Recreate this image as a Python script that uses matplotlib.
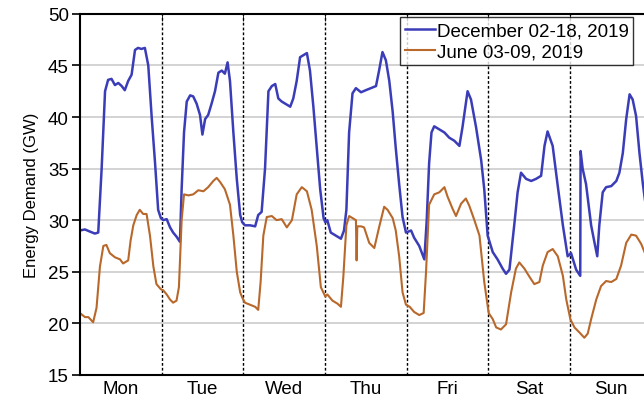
import matplotlib
matplotlib.use("Agg")
import matplotlib.pyplot as plt

plt.rcParams["font.family"] = ["Liberation Sans", "DejaVu Sans"]

# hours since Monday 00:00, energy demand in GW
dec_hours = [0, 1.5, 2.9, 4.4, 5.4, 6.4, 7.4, 8.3, 9.3, 10.3, 11.3, 12.3, 13.2, 14.2,
             15.2, 16.2, 17.1, 18.1, 19.1, 20.1, 21.1, 22.1, 23.0, 23.8,
             24.5, 25.5, 26.5, 27.4, 28.4, 29.4, 29.9, 30.6, 31.4, 32.4, 33.3, 34.3,
             35.3, 36.0, 36.8, 37.7, 38.7, 39.7, 40.7, 41.7, 42.6, 43.4, 44.1, 45.1,
             46.1, 47.1, 47.7,
             48.5, 50.0, 51.5, 52.4, 53.4, 54.4, 55.4, 56.4, 57.4, 58.3, 59.3, 60.3,
             61.8, 62.7, 63.7, 64.7, 65.7, 66.7, 67.6, 68.6, 69.6, 70.6, 71.6, 72.1,
             72.7, 73.7, 74.7, 75.7, 76.7, 77.6, 78.3, 79.1, 80.1, 81.1, 82.6, 84.0,
             85.5, 87.0, 87.9, 88.9, 89.9, 90.9, 91.9, 92.8, 93.8, 94.8, 95.8,
             97.3, 98.2, 99.7, 101.2, 101.9, 102.6, 103.3, 104.1, 105.6, 107.1, 108.5,
             110.0, 111.5, 112.4, 113.9, 114.9, 116.4, 117.9, 118.8, 119.8,
             121.3, 122.7, 124.2, 125.2, 126.2, 127.6, 128.6, 129.6, 131.1, 132.6,
             134.0, 135.5, 136.5, 137.4, 138.9, 140.4, 141.9, 143.3,
             144.3, 145.8, 147.0, 147.1, 147.7, 148.7, 150.2, 151.2, 152.0, 152.6,
             153.6, 154.6, 156.1, 157.6, 158.5, 159.5, 160.5, 161.5, 162.4, 163.4,
             164.4, 165.4, 166.4, 167.5]
dec_gw = [29.0, 29.1, 28.9, 28.7, 28.8, 35.0, 42.5, 43.6, 43.7, 43.1, 43.3, 43.0, 42.6, 43.5,
          44.1, 46.5, 46.7, 46.6, 46.7, 45.0, 40.0, 35.5, 31.0, 30.2,
          30.0, 30.1, 29.3, 28.8, 28.4, 27.9, 33.0, 38.5, 41.5, 42.1, 42.0, 41.3,
          40.2, 38.3, 39.8, 40.2, 41.3, 42.5, 44.3, 44.5, 44.2, 45.3, 43.5, 38.5,
          34.0, 30.5, 29.8,
          29.5, 29.5, 29.4, 30.5, 30.8, 35.0, 42.5, 43.0, 43.2, 41.8, 41.5, 41.3,
          41.0, 41.8, 43.5, 45.8, 46.0, 46.2, 44.5, 41.0, 37.0, 33.0, 30.2, 29.8,
          30.0, 28.8, 28.6, 28.4, 28.2, 29.0, 31.0, 38.5, 42.3, 42.8, 42.4, 42.6,
          42.8, 43.0, 44.5, 46.3, 45.5, 43.5, 40.5, 37.0, 33.5, 30.3, 28.8,
          29.0, 28.3, 27.5, 26.2, 30.0, 35.5, 38.5, 39.1, 38.8, 38.5, 38.0,
          37.7, 37.2, 39.0, 42.5, 41.7, 39.0, 35.8, 33.0, 28.5,
          26.9, 26.2, 25.3, 24.8, 25.2, 29.5, 32.7, 34.6, 34.0, 33.8,
          34.0, 34.3, 37.2, 38.6, 37.2, 33.3, 29.5, 26.5,
          26.8, 25.2, 24.6, 36.7, 35.0, 33.5, 29.5, 27.8, 26.5, 29.5,
          32.7, 33.2, 33.3, 33.8, 34.6, 36.5, 39.8, 42.2, 41.7, 40.1,
          36.5, 33.5, 31.0, 29.5]

jun_hours = [0, 1.5, 2.5, 3.9, 4.9, 5.9, 6.9, 7.8, 8.8, 10.3, 11.8, 12.7, 14.2, 14.9,
             15.7, 16.7, 17.6, 18.6, 19.6, 20.6, 21.6, 22.5, 23.8,
             24.5, 25.5, 26.5, 27.4, 28.4, 29.1, 29.9, 30.6, 31.9, 33.3, 34.8, 36.3,
             37.7, 39.2, 40.2, 41.2, 42.6, 44.1, 45.1, 46.1, 47.1, 47.7,
             48.5, 50.0, 51.5, 52.4, 53.1, 53.9, 54.9, 56.4, 57.8, 59.3, 60.8, 62.3,
             63.7, 65.2, 66.7, 68.1, 69.6, 70.8, 72.1,
             72.7, 74.2, 75.7, 76.7, 77.4, 78.3, 79.1, 80.1, 81.1, 81.3, 81.5, 82.6,
             83.5, 85.0, 86.5, 87.9, 89.4, 90.4, 91.9, 92.8, 93.8, 94.8, 95.8,
             96.9, 98.2, 99.7, 101.0, 101.7, 102.6, 104.1, 105.6, 107.1, 108.0, 109.5,
             110.5, 112.0, 113.4, 114.4, 115.9, 117.4, 118.8, 120.1,
             121.3, 122.3, 123.7, 125.2, 126.7, 128.1, 129.1, 130.6, 132.1, 133.5,
             135.0, 136.0, 137.4, 138.9, 140.4, 141.9, 142.9,
             144.1, 145.3, 146.8, 148.2, 149.2, 150.2, 151.7, 153.1, 154.6, 156.1,
             157.6, 159.0, 160.5, 162.0, 163.4, 164.9, 165.9, 167.5]
jun_gw = [21.0, 20.6, 20.6, 20.1, 21.5, 25.5, 27.5, 27.6, 26.8, 26.4, 26.2, 25.8, 26.1, 28.0,
          29.5, 30.5, 31.0, 30.6, 30.6, 28.5, 25.5, 23.8, 23.3,
          23.2, 22.8, 22.3, 22.0, 22.2, 23.5, 30.0, 32.5, 32.4, 32.5, 32.9, 32.8,
          33.2, 33.8, 34.1, 33.7, 33.0, 31.5, 28.5, 25.0, 23.0, 22.5,
          22.0, 21.8, 21.6, 21.3, 24.0, 28.5, 30.3, 30.4, 30.0, 30.1, 29.3, 30.0,
          32.5, 33.2, 32.8, 31.0, 27.5, 23.5, 22.6,
          22.8, 22.2, 21.9, 21.6, 24.5, 29.5, 30.4, 30.2, 30.0, 26.1, 29.4, 29.4,
          29.3, 27.8, 27.3, 29.3, 31.3, 31.0, 30.2, 29.0, 26.5, 23.0, 21.8,
          21.6, 21.1, 20.8, 21.0, 25.0, 31.5, 32.5, 32.7, 33.2, 32.3, 31.1,
          30.4, 31.6, 32.1, 31.4, 30.0, 28.5, 24.0, 21.0,
          20.4, 19.6, 19.4, 19.9, 23.0, 25.3, 25.9, 25.3, 24.5, 23.8,
          24.0, 25.6, 26.9, 27.2, 26.5, 24.6, 22.3,
          20.4, 19.6, 19.1, 18.6, 19.0, 20.4, 22.3, 23.6, 24.1, 24.0,
          24.3, 25.6, 27.8, 28.6, 28.5, 27.7, 26.9, 25.5]

days = ["Mon", "Tue", "Wed", "Thu", "Fri", "Sat", "Sun"]
y_ticks = [15, 20, 25, 30, 35, 40, 45, 50]

fig = plt.figure(figsize=(6.44, 4.02), dpi=100)
ax = fig.add_axes([0.124, 0.065, 0.888, 0.898])

ax.plot(dec_hours, dec_gw, color="#3b3db8", lw=1.8, label="December 02-18, 2019")
ax.plot(jun_hours, jun_gw, color="#b8682a", lw=1.5, label="June 03-09, 2019")

for d in range(1, 7):
    ax.axvline(d * 24, color="black", ls=(0, (2, 1.5)), lw=1.0, zorder=1)

ax.set_xlim(0, 168)
ax.set_ylim(15, 50)
ax.set_yticks(y_ticks)
ax.yaxis.grid(True, color="#cccccc", lw=1.2)
ax.set_axisbelow(True)

ax.set_xticks([d * 24 + 12 for d in range(7)])
ax.set_xticklabels(days, fontsize=13.5)
ax.set_xticks([d * 24 for d in range(1, 7)], minor=True)
ax.tick_params(axis="x", which="major", length=0, pad=4)
ax.tick_params(axis="x", which="minor", direction="in", top=True, bottom=False, length=5)
ax.tick_params(axis="y", direction="out", length=6, labelsize=13.5, width=1.2, pad=2)

for side in ["left", "top", "bottom"]:
    ax.spines[side].set_linewidth(1.5)
ax.spines["right"].set_visible(False)

ax.set_ylabel("Energy Demand (GW)", fontsize=12, labelpad=6)

leg = ax.legend(loc="upper left", bbox_to_anchor=(0.56, 0.99), fontsize=13.5,
                frameon=True, fancybox=False, edgecolor="black",
                handlelength=1.6, handletextpad=0.1, borderpad=0.25,
                labelspacing=0.2, borderaxespad=0)
leg.get_frame().set_linewidth(1.0)

fig.savefig("out.png", dpi=100)
